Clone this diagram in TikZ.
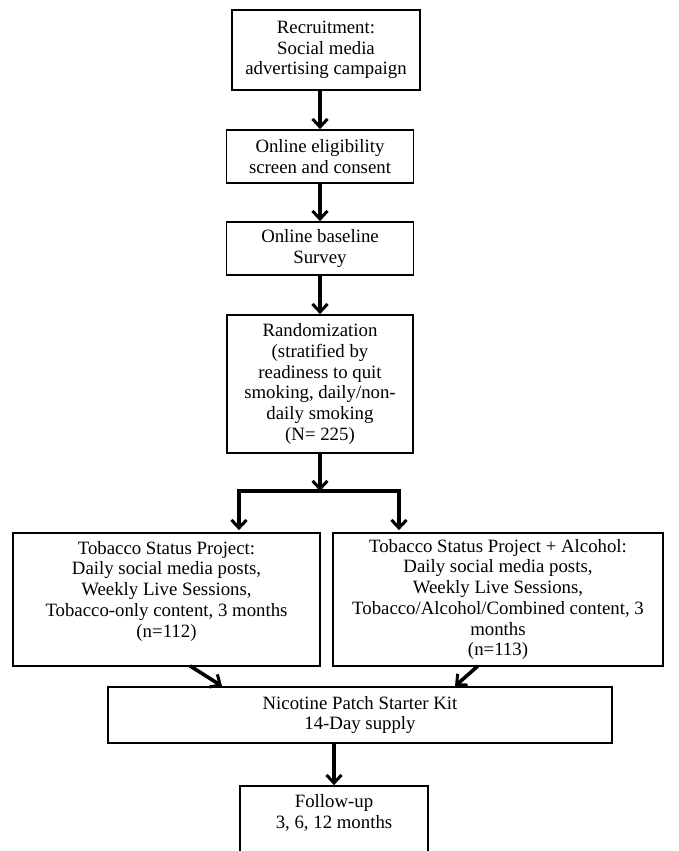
\documentclass[tikz,border=0pt]{standalone}
\usepackage{fontspec}
\setmainfont{Liberation Serif}
\usetikzlibrary{arrows.meta}
\begin{document}
\begin{tikzpicture}[x=1pt,y=-1pt,
  box/.style={draw=black,line width=1.7pt,fill=white,align=center,inner sep=2pt,
    font=\fontsize{18.8}{20.7}\selectfont},
  arr/.style={line width=3.6pt,-{Straight Barb[length=8pt,width=15pt,line width=3pt]}},
  lin/.style={line width=3.6pt}]
\clip (0,0) rectangle (679,851);
\fill[white] (0,0) rectangle (679,851);
\node[box,minimum width=188pt,minimum height=80pt] (b1) at (326,50) {Recruitment:\\Social media\\advertising campaign};
\node[box,minimum width=187pt,minimum height=53pt] (b2) at (320,156.5) {Online eligibility\\screen and consent};
\node[box,minimum width=187pt,minimum height=53pt] (b3) at (320,248.5) {Online baseline\\Survey};
\node[box,minimum width=186pt,minimum height=138pt] (b4) at (320,384) {Randomization\\(stratified by\\readiness to quit\\smoking, daily/non-\\daily smoking\\(N= 225)};
\node[box,minimum width=307pt,minimum height=133pt] (lt) at (166.5,599.5) {Tobacco Status Project:\\Daily social media posts,\\Weekly Live Sessions,\\Tobacco-only content, 3 months\\(n=112)\\\mbox{}};
\node[box,minimum width=330pt,minimum height=133pt] (rt) at (498,599.5) {Tobacco Status Project + Alcohol:\\Daily social media posts,\\Weekly Live Sessions,\\Tobacco/Alcohol/Combined content, 3\\months\\(n=113)};
\node[box,minimum width=504pt,minimum height=56pt] (nic) at (360,715) {Nicotine Patch Starter Kit\\14-Day supply};
\node[box,minimum width=188pt,minimum height=90pt] (fol) at (334,831) {Follow-up\\3, 6, 12 months\\[18pt]\mbox{}};
\coordinate (split) at (320,491);
\coordinate (sl) at (239,491);
\coordinate (sr) at (399,491);
\draw[arr] (b2.north |- b1.south) -- (b2.north);
\draw[arr] (b2.south) -- (b3.north);
\draw[arr] (b3.south) -- (b4.north);
\draw[arr] (b4.south) -- (split);
\draw[lin,line cap=rect] (sl) -- (sr);
\draw[arr,shorten >=2pt] (sl) -- (sl |- lt.north);
\draw[arr,shorten >=2pt] (sr) -- (sr |- rt.north);
\draw[arr] ([xshift=23.5pt,yshift=1pt]lt.south) -- ([xshift=-138pt]nic.north);
\draw[arr] ([xshift=-20pt,yshift=1pt]rt.south) -- ([xshift=95pt]nic.north);
\draw[arr] (fol.north |- nic.south) -- (fol.north);
\end{tikzpicture}
\end{document}
